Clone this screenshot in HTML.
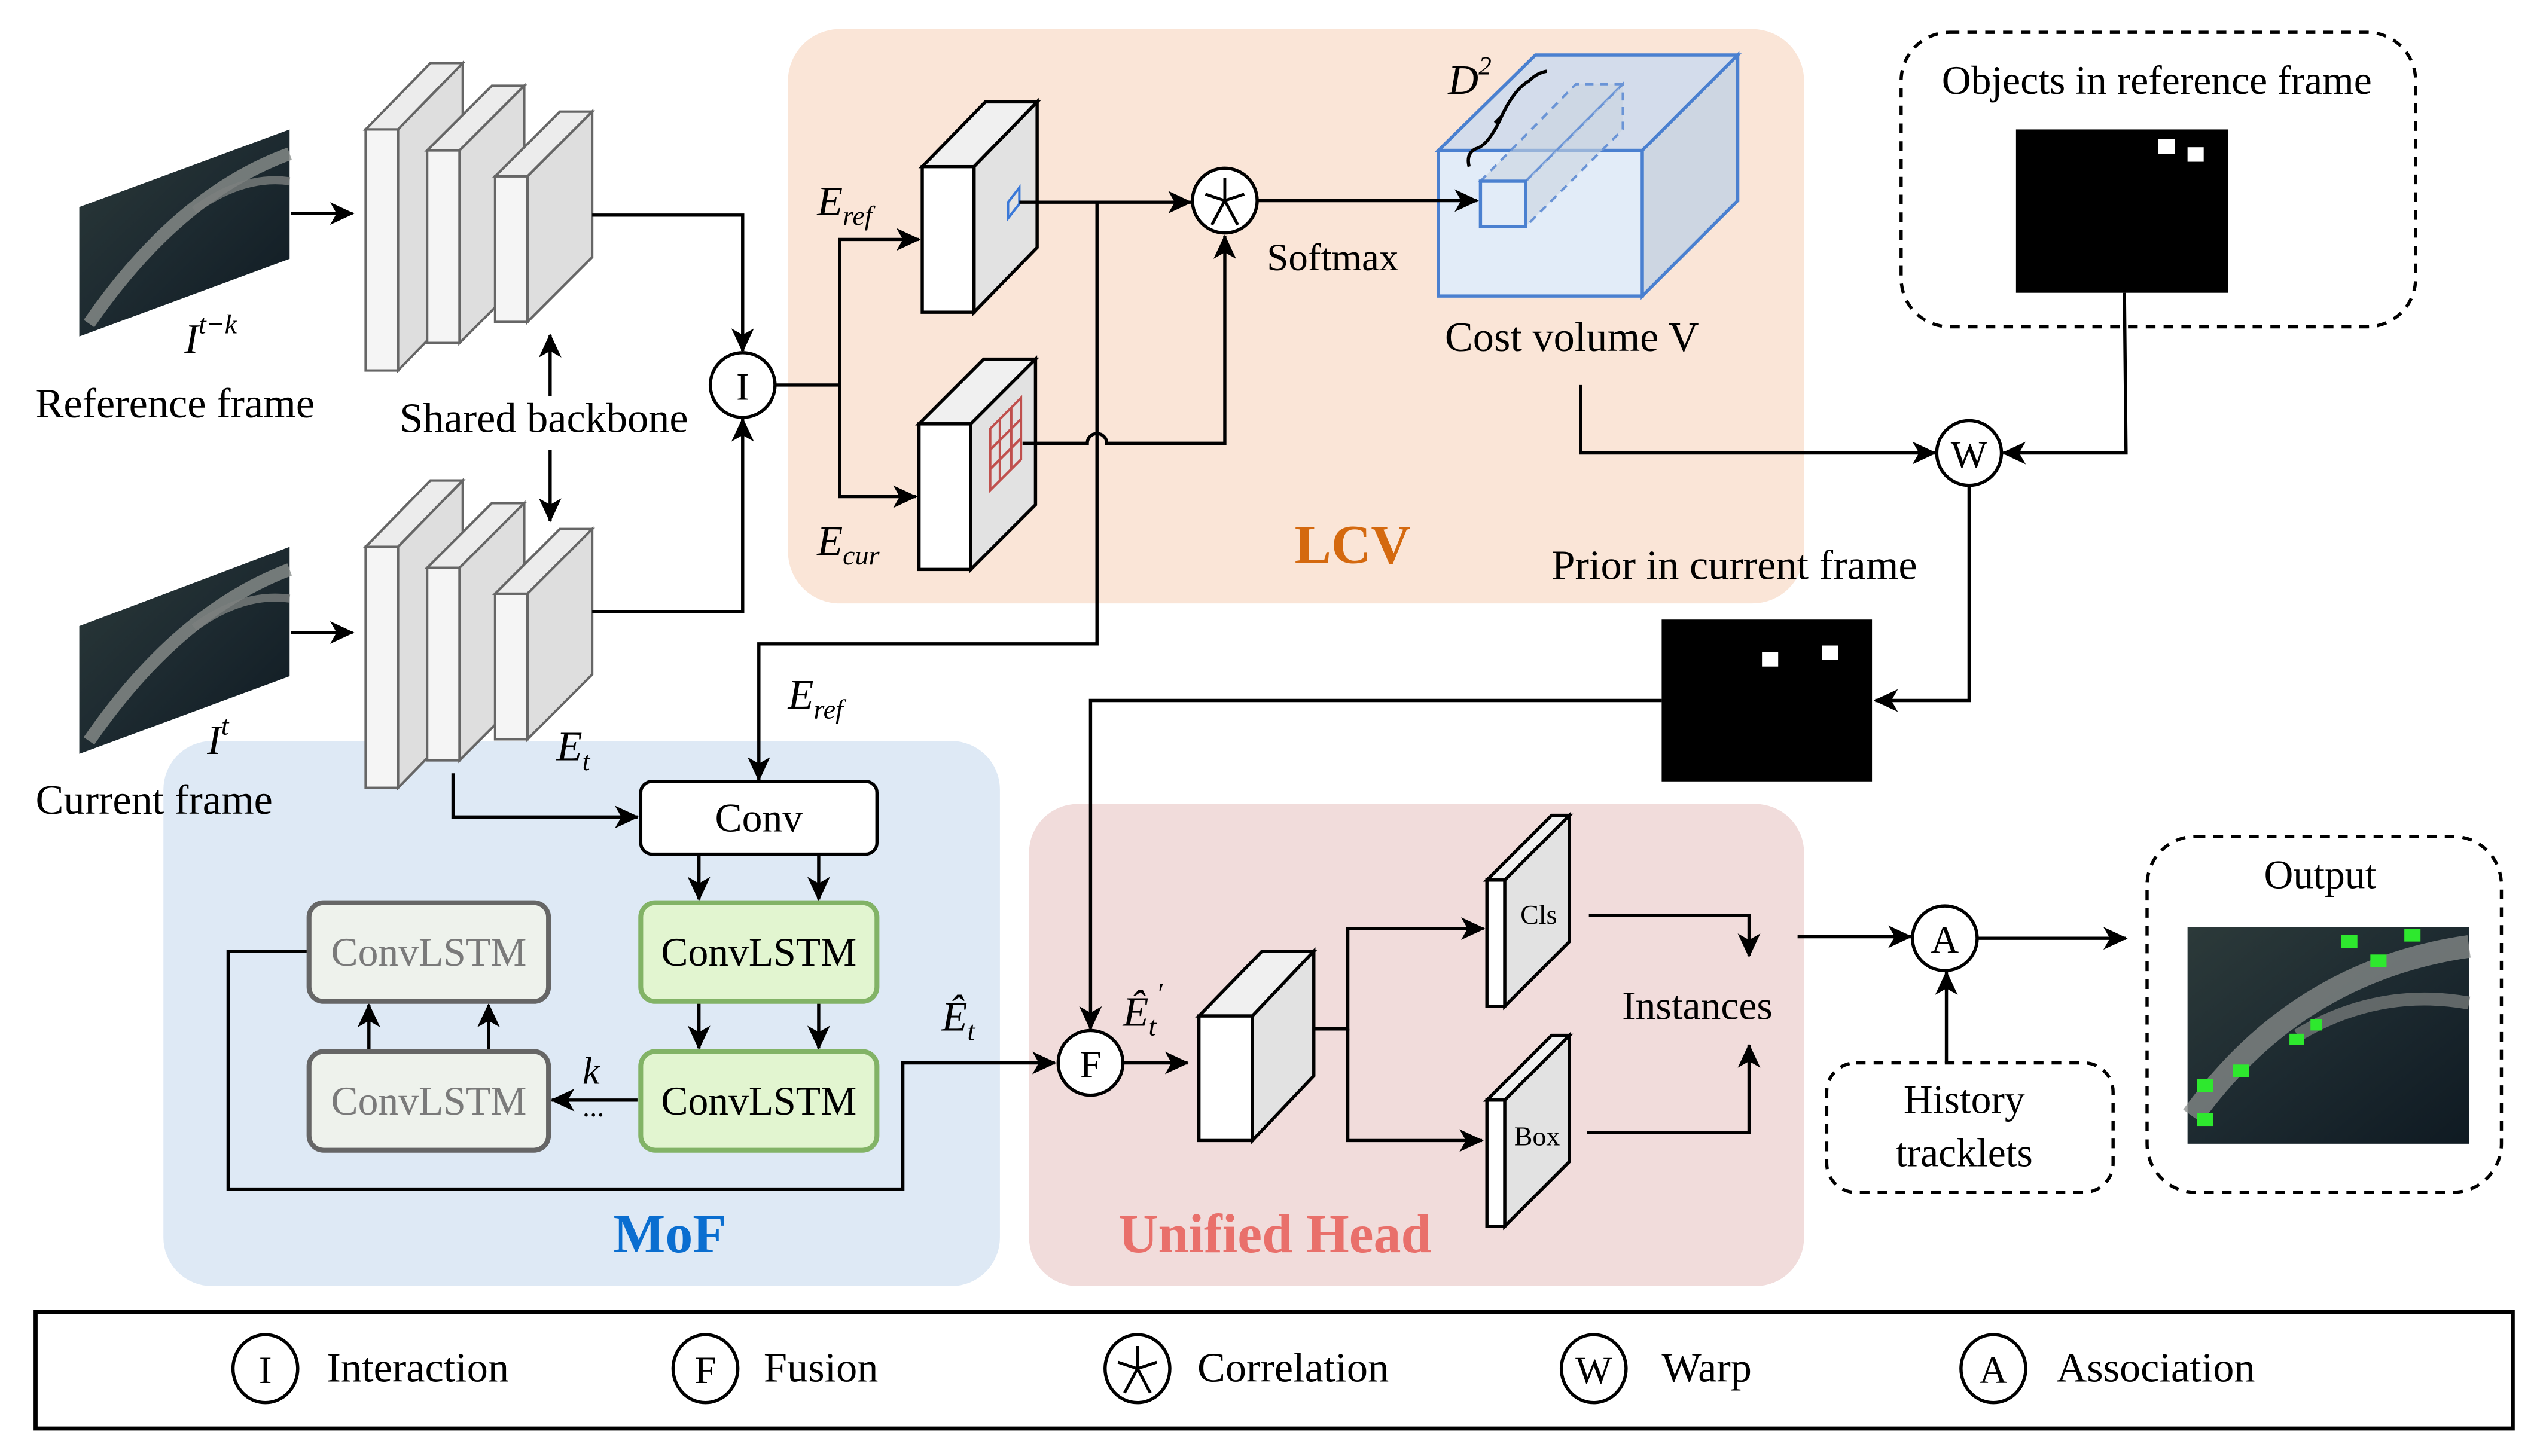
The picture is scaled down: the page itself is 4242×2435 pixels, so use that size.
<!DOCTYPE html>
<html><head><meta charset="utf-8"><style>
html,body{margin:0;padding:0;background:#fff}
svg{display:block;font-family:"Liberation Serif","DejaVu Serif",serif}
svg text{font-family:"Liberation Serif","DejaVu Serif",serif;fill:#000}
</style></head><body>
<svg width="4242" height="2435" viewBox="0 0 1568 900" preserveAspectRatio="none" xmlns="http://www.w3.org/2000/svg" font-family="Liberation Serif, serif">
<defs>
<marker id="a" markerUnits="userSpaceOnUse" markerWidth="16" markerHeight="16" refX="14" refY="8" orient="auto">
<path d="M0,1 L15,8 L0,15 L4,8 Z" fill="#000"/></marker>
<linearGradient id="sat" x1="0" y1="0" x2="1" y2="1">
<stop offset="0" stop-color="#2c3a3a"/><stop offset="0.5" stop-color="#1d2a30"/><stop offset="1" stop-color="#0f1a22"/></linearGradient>
</defs>
<rect width="1568" height="900" fill="#fff"/>
<rect x="487" y="18" width="628" height="355" rx="32" fill="#fae5d7"/>
<rect x="101" y="458" width="517" height="337" rx="30" fill="#dee9f5"/>
<rect x="636" y="497" width="479" height="298" rx="30" fill="#f1dcdb"/>

<!-- satellite images -->
<g>
<polygon points="49,128 179,80 179,160 49,208" fill="url(#sat)"/>
<path d="M55,200 Q110,120 179,95" stroke="#8a8e8c" stroke-width="8" fill="none" opacity="0.8"/>
<path d="M120,130 Q150,108 179,112" stroke="#7c807e" stroke-width="5" fill="none" opacity="0.8"/>
<polygon points="49,387 179,338 179,418 49,466" fill="url(#sat)"/>
<path d="M55,458 Q110,378 179,352" stroke="#8a8e8c" stroke-width="8" fill="none" opacity="0.8"/>
<path d="M120,388 Q150,366 179,370" stroke="#7c807e" stroke-width="5" fill="none" opacity="0.8"/>
</g>

<!-- backbone slabs -->
<g stroke="#666" stroke-width="1.5">
<g id="bb">
<polygon points="226,80 266,39 286,39 246,80" fill="#ececec"/>
<polygon points="246,80 286,39 286,188 246,229" fill="#dedede"/>
<rect x="226" y="80" width="20" height="149" fill="#f5f5f5"/>
<polygon points="264,93 304,53 324,53 284,93" fill="#ececec"/>
<polygon points="284,93 324,53 324,172 284,212" fill="#dedede"/>
<rect x="264" y="93" width="20" height="119" fill="#f5f5f5"/>
<polygon points="306,109 346,69 366,69 326,109" fill="#ececec"/>
<polygon points="326,109 366,69 366,159 326,199" fill="#dedede"/>
<rect x="306" y="109" width="20" height="90" fill="#f5f5f5"/>
</g>
<use href="#bb" transform="translate(0,258)"/>
</g>

<!-- E_ref / E_cur blocks -->
<g stroke="#000" stroke-width="2">
<polygon points="570,103 609,63 641,63 602,103" fill="#f0f0f0"/>
<polygon points="602,103 641,63 641,153 602,193" fill="#e2e2e2"/>
<rect x="570" y="103" width="32" height="90" fill="#fff"/>
<polygon points="568,262 608,222 640,222 600,262" fill="#f0f0f0"/>
<polygon points="600,262 640,222 640,312 600,352" fill="#e2e2e2"/>
<rect x="568" y="262" width="32" height="90" fill="#fff"/>
</g>
<polygon points="623,125 630,116 630,126 623,135" fill="none" stroke="#3a78d8" stroke-width="1.5"/>
<g stroke="#c0504d" stroke-width="1.5" fill="none">
<polygon points="612,265 631,246 631,284 612,303"/>
<line x1="612" y1="278" x2="631" y2="259"/><line x1="612" y1="290" x2="631" y2="271"/>
<line x1="618" y1="259" x2="618" y2="297"/><line x1="625" y1="252" x2="625" y2="290"/>
</g>

<!-- cost volume -->
<g stroke="#4a80d0" stroke-width="2">
<polygon points="889,93 949,34 1074,34 1015,93" fill="#d3dceb"/>
<polygon points="1015,93 1074,34 1074,124 1015,183" fill="#cdd6e2"/>
<rect x="889" y="93" width="126" height="90" fill="#e2ecf8"/>
</g>
<g stroke="#6a94d6" stroke-width="1.5" fill="none" stroke-dasharray="5,4">
<polygon points="915,112 974,52 1003,52 943,112" fill="#c9d3e0" fill-opacity="0.6"/>
<polygon points="943,112 1003,52 1003,80 943,140" fill="#c9d3e0" fill-opacity="0.6"/>
</g>
<rect x="915" y="112" width="28" height="28" fill="none" stroke="#4a80d0" stroke-width="2"/>
<path d="M908,103 Q906,95 912,92 Q920,90 928,72 Q936,55 945,50 Q950,45 956,44 M928,72 L924,76" stroke="#000" stroke-width="2" fill="none"/>

<!-- unified head blocks -->
<g stroke="#000" stroke-width="2">
<polygon points="741,628 780,588 812,588 774,628" fill="#f0f0f0"/>
<polygon points="774,628 812,588 812,665 774,705" fill="#e2e2e2"/>
<rect x="741" y="628" width="33" height="77" fill="#fff"/>
<polygon points="919,544 959,504 970,504 930,544" fill="#f0f0f0"/>
<polygon points="930,544 970,504 970,582 930,622" fill="#e2e2e2"/>
<rect x="919" y="544" width="11" height="78" fill="#fff"/>
<polygon points="919,680 959,640 970,640 930,680" fill="#f0f0f0"/>
<polygon points="930,680 970,640 970,718 930,758" fill="#e2e2e2"/>
<rect x="919" y="680" width="11" height="78" fill="#fff"/>
</g>

<g stroke="#000" stroke-width="2" fill="none">
<path d="M180,132 H218" marker-end="url(#a)"/>
<path d="M180,391 H218" marker-end="url(#a)"/>
<path d="M366,133 H459 V217" marker-end="url(#a)"/>
<path d="M366,378 H459 V259" marker-end="url(#a)"/>
<path d="M340,245 V207" marker-end="url(#a)"/>
<path d="M340,278 V322" marker-end="url(#a)"/>
<path d="M479,238 H519 V148 H568" marker-end="url(#a)"/>
<path d="M519,238 V307 H566" marker-end="url(#a)"/>
<path d="M630,125 H736" marker-end="url(#a)"/>
<path d="M678,125 V398 H469 V482" marker-end="url(#a)"/>
<path d="M632,274 H672 A6,6 0 0 1 684,274 H757 V146" marker-end="url(#a)"/>
<path d="M777,124 H913" marker-end="url(#a)"/>
<path d="M977,238 V280 H1196" marker-end="url(#a)"/>
<path d="M1313,181 L1314,280 H1238" marker-end="url(#a)"/>
<path d="M1217,300 V433 H1159" marker-end="url(#a)"/>
<path d="M1027,433 H674 V636" marker-end="url(#a)"/>
<path d="M280,478 V505 H394" marker-end="url(#a)"/>
<path d="M432,528 V556" marker-end="url(#a)"/>
<path d="M506,528 V556" marker-end="url(#a)"/>
<path d="M432,620 V648" marker-end="url(#a)"/>
<path d="M506,620 V648" marker-end="url(#a)"/>
<path d="M228,650 V621" marker-end="url(#a)"/>
<path d="M302,650 V621" marker-end="url(#a)"/>
<path d="M394,680 H341" marker-end="url(#a)"/>
<path d="M191,588 H141 V735 H558 V657 H652" marker-end="url(#a)"/>
<path d="M694,657 H734" marker-end="url(#a)"/>
<path d="M812,636 H833 V574 H917" marker-end="url(#a)"/>
<path d="M833,636 V705 H916" marker-end="url(#a)"/>
<path d="M982,566 H1081 V591" marker-end="url(#a)"/>
<path d="M981,700 H1081 V646" marker-end="url(#a)"/>
<path d="M1111,579 H1181" marker-end="url(#a)"/>
<path d="M1222,580 H1314" marker-end="url(#a)"/>
<path d="M1203,657 V601" marker-end="url(#a)"/>
</g>

<!-- circles -->
<g stroke="#000" stroke-width="2" fill="#fff">
<circle cx="459" cy="238" r="20"/>
<circle cx="757" cy="124" r="20"/>
<ellipse cx="1217" cy="280" rx="20" ry="20"/>
<circle cx="674" cy="657" r="20"/>
<circle cx="1202" cy="580" r="20"/>
</g>
<g stroke="#000" stroke-width="1.8" fill="none">
<path d="M757,110 V124 M757,124 L745,120 M757,124 L769,120 M757,124 L749,139 M757,124 L765,139"/>
</g>
<g font-size="24" text-anchor="middle">
<text x="459" y="247">I</text>
<text x="1217" y="289">W</text>
<text x="674" y="666">F</text>
<text x="1202" y="589">A</text>
</g>

<!-- objects in ref frame -->
<rect x="1175" y="20" width="318" height="182" rx="30" fill="none" stroke="#000" stroke-width="2" stroke-dasharray="6,5"/>
<text x="1333" y="58" font-size="25" text-anchor="middle">Objects in reference frame</text>
<rect x="1246" y="80" width="131" height="101" fill="#000"/>
<rect x="1334" y="86" width="10" height="9" fill="#fff"/><rect x="1352" y="91" width="10" height="9" fill="#fff"/>
<rect x="1027" y="383" width="130" height="100" fill="#000"/>
<rect x="1089" y="403" width="10" height="9" fill="#fff"/><rect x="1126" y="399" width="10" height="9" fill="#fff"/>

<!-- MoF boxes -->
<rect x="396" y="483" width="146" height="45" rx="7" fill="#fff" stroke="#000" stroke-width="2"/>
<rect x="396" y="558" width="146" height="61" rx="9" fill="#e2f5d0" stroke="#82b366" stroke-width="3"/>
<rect x="396" y="650" width="146" height="61" rx="9" fill="#e2f5d0" stroke="#82b366" stroke-width="3"/>
<rect x="191" y="558" width="148" height="61" rx="9" fill="#eef2ec" stroke="#666" stroke-width="3"/>
<rect x="191" y="650" width="148" height="61" rx="9" fill="#eef2ec" stroke="#666" stroke-width="3"/>
<g font-size="25" text-anchor="middle">
<text x="469" y="514">Conv</text>
<text x="469" y="597">ConvLSTM</text>
<text x="469" y="689">ConvLSTM</text>
<text x="265" y="597" style="fill:#7a7a7a">ConvLSTM</text>
<text x="265" y="689" style="fill:#7a7a7a">ConvLSTM</text>
</g>
<text x="360" y="670" font-size="24" font-style="italic">k</text>
<text x="360" y="690" font-size="18">...</text>

<text x="951" y="571" font-size="17" text-anchor="middle">Cls</text>
<text x="950" y="708" font-size="17" text-anchor="middle">Box</text>
<text x="1049" y="630" font-size="25" text-anchor="middle">Instances</text>

<!-- history / output -->
<rect x="1129" y="657" width="177" height="80" rx="18" fill="none" stroke="#000" stroke-width="2" stroke-dasharray="6,5"/>
<text x="1214" y="688" font-size="25" text-anchor="middle">History</text>
<text x="1214" y="721" font-size="25" text-anchor="middle">tracklets</text>
<rect x="1327" y="517" width="219" height="220" rx="30" fill="none" stroke="#000" stroke-width="2" stroke-dasharray="6,5"/>
<text x="1434" y="549" font-size="25" text-anchor="middle">Output</text>
<rect x="1352" y="573" width="174" height="134" fill="url(#sat)"/>
<path d="M1355,690 Q1420,600 1526,585" stroke="#8a8e8c" stroke-width="14" fill="none" opacity="0.75"/>
<path d="M1420,640 Q1470,610 1526,620" stroke="#7a7e7c" stroke-width="8" fill="none" opacity="0.75"/>
<g fill="#2ee82e">
<rect x="1447" y="578" width="10" height="8"/><rect x="1486" y="574" width="10" height="8"/><rect x="1465" y="590" width="10" height="8"/>
<rect x="1428" y="630" width="7" height="7"/><rect x="1415" y="639" width="9" height="7"/><rect x="1380" y="658" width="10" height="8"/>
<rect x="1358" y="667" width="10" height="8"/><rect x="1358" y="688" width="10" height="8"/>
</g>

<!-- labels -->
<g font-size="26">
<text x="22" y="258">Reference frame</text>
<text x="247" y="267">Shared backbone</text>
<text x="22" y="503">Current frame</text>
<text x="783" y="167" font-size="24">Softmax</text>
<text x="893" y="217">Cost volume V</text>
<text x="959" y="358">Prior in current frame</text>
</g>
<g font-style="italic" font-size="26">
<text x="114" y="218">I<tspan font-size="17" dy="-12">t−k</tspan></text>
<text x="128" y="466">I<tspan font-size="17" dy="-12">t</tspan></text>
<text x="505" y="133">E<tspan font-size="17" dy="6">ref</tspan></text>
<text x="505" y="343">E<tspan font-size="17" dy="6">cur</tspan></text>
<text x="487" y="438">E<tspan font-size="17" dy="6">ref</tspan></text>
<text x="344" y="470">E<tspan font-size="17" dy="6">t</tspan></text>
<text x="582" y="637">Ê<tspan font-size="17" dy="6">t</tspan></text>
<text x="694" y="634">Ê<tspan font-size="17" dy="6">t</tspan><tspan dy="-20" font-size="18">′</tspan></text>
<text x="895" y="58">D<tspan font-size="16" dy="-12">2</tspan></text>
</g>
<g font-weight="bold" font-size="34" text-anchor="middle">
<text x="836" y="348" style="fill:#d4690f">LCV</text>
<text x="414" y="774" style="fill:#0a6ed0">MoF</text>
<text x="788" y="774" style="fill:#e9706b">Unified Head</text>
</g>

<!-- legend -->
<rect x="22" y="811" width="1531" height="72" fill="none" stroke="#000" stroke-width="2.5"/>
<g stroke="#000" stroke-width="2" fill="#fff">
<ellipse cx="164" cy="846" rx="20" ry="21"/>
<ellipse cx="436" cy="846" rx="20" ry="21"/>
<ellipse cx="703" cy="846" rx="20" ry="21"/>
<ellipse cx="985" cy="846" rx="20" ry="21"/>
<ellipse cx="1232" cy="846" rx="20" ry="21"/>
</g>
<path d="M703,832 V846 M703,846 L691,842 M703,846 L715,842 M703,846 L695,861 M703,846 L711,861" stroke="#000" stroke-width="1.8" fill="none"/>
<g font-size="24" text-anchor="middle">
<text x="164" y="855">I</text><text x="436" y="855">F</text><text x="985" y="855">W</text><text x="1232" y="855">A</text>
</g>
<g font-size="26">
<text x="202" y="854">Interaction</text>
<text x="472" y="854">Fusion</text>
<text x="740" y="854">Correlation</text>
<text x="1027" y="854">Warp</text>
<text x="1271" y="854">Association</text>
</g>
</svg>
</body></html>
